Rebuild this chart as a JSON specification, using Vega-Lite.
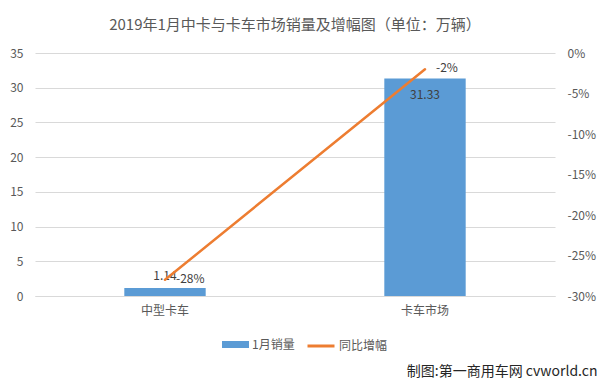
{
  "$schema": "https://vega.github.io/schema/vega-lite/v6.json",
  "width": 520,
  "height": 243,
  "autosize": {"type": "none"},
  "padding": {"left": 35, "top": 53, "right": 50, "bottom": 90},
  "background": "white",
  "title": {
    "text": "2019年1月中卡与卡车市场销量及增幅图（单位：万辆）",
    "fontSize": 15,
    "font": "Noto Sans CJK SC",
    "fontWeight": "normal",
    "color": "#595959",
    "anchor": "middle",
    "frame": "group",
    "baseline": "alphabetic",
    "offset": 2
  },
  "config": {
    "font": "Noto Sans CJK SC",
    "view": {"stroke": null},
    "axis": {
      "labelFont": "Noto Sans CJK SC",
      "labelFontSize": 12,
      "labelColor": "#595959",
      "labelOverlap": false,
      "ticks": false,
      "domain": false,
      "gridColor": "#d9d9d9"
    }
  },
  "data": {
    "values": [
      {"category": "中型卡车", "sales": 1.14, "growth": -0.28, "growthLabel": "-28%"},
      {"category": "卡车市场", "sales": 31.33, "growth": -0.02, "growthLabel": "-2%"}
    ]
  },
  "encoding": {
    "x": {
      "field": "category",
      "type": "nominal",
      "sort": null,
      "scale": {"paddingInner": 0.687, "paddingOuter": 0.3435},
      "axis": {
        "labelAngle": 0,
        "labelPadding": 9,
        "domain": true,
        "domainColor": "#d9d9d9",
        "title": "制图:第一商用车网 cvworld.cn",
        "titleFont": "Noto Sans CJK SC",
        "titleFontSize": 14,
        "titleFontWeight": "normal",
        "titleColor": "#262626",
        "titleAnchor": "end",
        "titleAlign": "right",
        "titleBaseline": "alphabetic",
        "titleX": 562,
        "titleY": 79
      }
    }
  },
  "layer": [
    {
      "encoding": {
        "y": {
          "field": "sales",
          "type": "quantitative",
          "scale": {"domain": [0, 35], "nice": false, "zero": true},
          "axis": {"title": null, "values": [0, 5, 10, 15, 20, 25, 30, 35], "labelOverlap": false, "labelPadding": 12, "grid": true}
        }
      },
      "layer": [
        {
          "mark": {"type": "bar"},
          "encoding": {
            "fill": {
              "datum": "1月销量",
              "type": "nominal",
              "scale": {"range": ["#5B9BD5"]},
              "legend": {
                "title": null,
                "orient": "none",
                "legendX": 187,
                "legendY": 278,
                "padding": 0,
                "symbolType": "M-1,-0.26H1V0.26H-1Z",
                "symbolSize": 729,
                "symbolStrokeWidth": 0,
                "labelFont": "Noto Sans CJK SC",
                "labelFontSize": 12,
                "labelColor": "#595959",
                "labelOffset": 3
              }
            }
          }
        },
        {
          "transform": [{"filter": "datum.sales <= 10"}],
          "mark": {"type": "text", "fontSize": 12, "color": "#404040", "baseline": "alphabetic", "dy": -8},
          "encoding": {
            "text": {"field": "sales", "type": "quantitative", "format": ".2f"}
          }
        },
        {
          "transform": [{"filter": "datum.sales > 10"}],
          "mark": {"type": "text", "fontSize": 12, "color": "#404040", "baseline": "alphabetic", "dy": 21},
          "encoding": {
            "text": {"field": "sales", "type": "quantitative", "format": ".2f"}
          }
        }
      ]
    },
    {
      "encoding": {
        "y": {
          "field": "growth",
          "type": "quantitative",
          "scale": {"domain": [-0.3, 0], "nice": false},
          "axis": {
            "title": null,
            "orient": "right",
            "values": [-0.3, -0.25, -0.2, -0.15, -0.1, -0.05, 0],
            "labelExpr": "round(datum.value * 100) + '%'",
            "labelOverlap": false,
            "labelPadding": 12,
            "grid": false
          }
        }
      },
      "layer": [
        {
          "mark": {"type": "line", "strokeWidth": 2.5, "strokeCap": "round"},
          "encoding": {
            "stroke": {
              "datum": "同比增幅",
              "type": "nominal",
              "scale": {"range": ["#ED7D31"]},
              "legend": {
                "title": null,
                "orient": "none",
                "legendX": 271,
                "legendY": 278,
                "padding": 0,
                "symbolType": "M-1,0H1",
                "symbolSize": 729,
                "symbolStrokeWidth": 3,
                "labelFont": "Noto Sans CJK SC",
                "labelFontSize": 12,
                "labelColor": "#595959",
                "labelOffset": 3
              }
            }
          }
        },
        {
          "mark": {"type": "text", "fontSize": 12, "color": "#404040", "align": "left", "baseline": "middle", "dx": 11, "dy": -1},
          "encoding": {
            "text": {"field": "growthLabel", "type": "nominal"}
          }
        }
      ]
    }
  ],
  "resolve": {"scale": {"y": "independent", "fill": "independent", "stroke": "independent"}}
}
